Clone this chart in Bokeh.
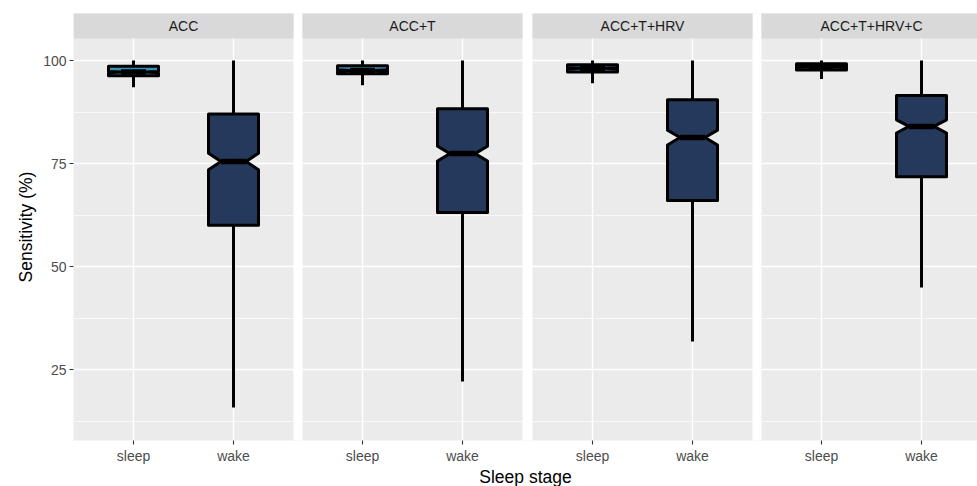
from bokeh.plotting import figure
from bokeh.models import Range1d, FixedTicker
from bokeh.core.properties import value
from bokeh.embed import file_html
from bokeh.resources import INLINE

# ---------------- data ----------------
panels = ["ACC", "ACC+T", "ACC+T+HRV", "ACC+T+HRV+C"]
stages = ["sleep", "wake"]

sleep_whisker_lo = [93.5, 94.0, 94.5, 95.5]
sleep_q1 = [96.3, 96.8, 97.2, 97.7]
sleep_median = [97.2, 97.6, 98.1, 98.5]
sleep_q3 = [98.6, 98.7, 99.0, 99.2]
sleep_whisker_hi = [100.0, 100.0, 100.0, 100.0]
sleep_notch_lo = [97.05, 97.45, 97.95, 98.4]
sleep_notch_hi = [97.35, 97.75, 98.25, 98.6]

wake_whisker_lo = [15.8, 22.1, 31.8, 44.9]
wake_q1 = [60.0, 63.1, 66.0, 71.8]
wake_median = [75.5, 77.4, 81.3, 84.0]
wake_q3 = [87.0, 88.3, 90.5, 91.5]
wake_whisker_hi = [100.0, 100.0, 100.0, 100.0]
wake_notch_lo = [73.5, 75.6, 79.5, 82.4]
wake_notch_hi = [77.5, 79.2, 83.1, 85.6]

y_ticks = [25, 50, 75, 100]
y_minor = [12.5, 37.5, 62.5, 87.5]

# ---------------- layout helpers ----------------
panel_offsets = [0.0, 2.29, 4.59, 6.88]   # horizontal offset of each facet (x units)
x_lo, x_hi = 0.4, 9.44
y_lo, y_panel_top, y_top = 7.77, 105.34, 111.41
box_w = 0.5
notch_w = 0.5

BG = "#EBEBEB"
STRIP = "#D9D9D9"
FILL = {"sleep": "#2A86A8", "wake": "#13294F"}
TICK_FS = "14px"
TITLE_FS = "17.5px"

p = figure(frame_width=904, frame_height=427, output_backend="svg",
           toolbar_location=None, x_range=Range1d(x_lo, x_hi),
           y_range=Range1d(y_lo, y_top),
           min_border_left=73, min_border_top=13, min_border_right=0,
           min_border_bottom=10)
p.background_fill_color = BG
p.border_fill_color = "white"
p.outline_line_color = None

# ticks
x_tick_pos = []
x_tick_lab = {}
for o in panel_offsets:
    for i, s in enumerate(stages):
        pos = o + i + 1
        x_tick_pos.append(pos)
        x_tick_lab[pos] = s
p.xaxis.ticker = FixedTicker(ticks=x_tick_pos)
p.xaxis.major_label_overrides = x_tick_lab
p.yaxis.ticker = FixedTicker(ticks=y_ticks, minor_ticks=y_minor)

for ax in (p.xaxis, p.yaxis):
    ax.axis_line_color = None
    ax.major_tick_in = 0
    ax.major_tick_out = 4
    ax.major_tick_line_color = "#333333"
    ax.major_tick_line_width = 1.1
    ax.minor_tick_line_color = None
    ax.major_label_text_color = "#4D4D4D"
    ax.major_label_text_font = "Liberation Sans"
    ax.major_label_text_font_size = TICK_FS
    ax.axis_label_text_font = "Liberation Sans"
    ax.axis_label_text_font_size = TITLE_FS
    ax.axis_label_text_font_style = "normal"
    ax.axis_label_text_color = "black"
p.xaxis.major_label_standoff = 3
p.yaxis.major_label_standoff = 3
p.xaxis.axis_label = "Sleep stage"
p.xaxis.axis_label_standoff = 0
p.yaxis.axis_label = "Sensitivity (%)"
p.yaxis.axis_label_standoff = 4

p.xgrid.grid_line_color = "white"
p.xgrid.grid_line_width = 1.4
p.ygrid.grid_line_color = "white"
p.ygrid.grid_line_width = 1.4
p.ygrid.minor_grid_line_color = "white"
p.ygrid.minor_grid_line_width = 0.7

# white gaps between facets
gap_left, gap_right = [], []
for k in range(1, len(panel_offsets)):
    gap_left.append(panel_offsets[k - 1] + 2.6)
    gap_right.append(panel_offsets[k] + 0.4)
p.quad(left=gap_left, right=gap_right, bottom=y_lo - 10, top=y_top + 10,
       fill_color="white", line_color=None)

# strips
strip_l = [o + 0.4 for o in panel_offsets]
strip_r = [min(o + 2.6, x_hi + 1) for o in panel_offsets]
p.quad(left=strip_l, right=strip_r, bottom=y_panel_top, top=y_top + 5,
       fill_color=STRIP, line_color=None)
p.text(x=[o + 1.5 for o in panel_offsets], y=[(y_panel_top + y_top) / 2] * 4,
       text=panels, text_align="center", text_baseline="middle",
       text_font=value("Liberation Sans"), text_font_size=TICK_FS,
       text_color="#1A1A1A")

# boxplots
def box_poly(xc, q1, med, q3, nlo, nhi):
    x0, x1 = xc - box_w / 2, xc + box_w / 2
    ind = box_w * (1 - notch_w) / 2
    xs = [x0, x0, x0 + ind, x0, x0, x1, x1, x1 - ind, x1, x1]
    ys = [q3, nhi, med, nlo, q1, q1, nlo, med, nhi, q3]
    return xs, ys

stats = {
    "sleep": (sleep_whisker_lo, sleep_q1, sleep_median, sleep_q3, sleep_whisker_hi, sleep_notch_lo, sleep_notch_hi),
    "wake": (wake_whisker_lo, wake_q1, wake_median, wake_q3, wake_whisker_hi, wake_notch_lo, wake_notch_hi),
}

for i, s in enumerate(stages):
    wlo, q1, med, q3, whi, nlo, nhi = stats[s]
    xc = [o + i + 1 for o in panel_offsets]
    # whiskers
    p.segment(x0=xc, y0=q3, x1=xc, y1=whi, line_color="black", line_width=3)
    p.segment(x0=xc, y0=wlo, x1=xc, y1=q1, line_color="black", line_width=3)
    xs, ys = [], []
    for k in range(len(xc)):
        bx, by = box_poly(xc[k], q1[k], med[k], q3[k], nlo[k], nhi[k])
        xs.append(bx)
        ys.append(by)
    p.patches(xs=xs, ys=ys, fill_color=FILL[s], fill_alpha=0.92,
              line_color="black", line_width=3, line_join="round")
    ind = box_w * (1 - notch_w) / 2
    p.segment(x0=[x - box_w / 2 + ind for x in xc], y0=med,
              x1=[x + box_w / 2 - ind for x in xc], y1=med,
              line_color="black", line_width=5.5)

open("out.html", "w").write(file_html(p, INLINE))
